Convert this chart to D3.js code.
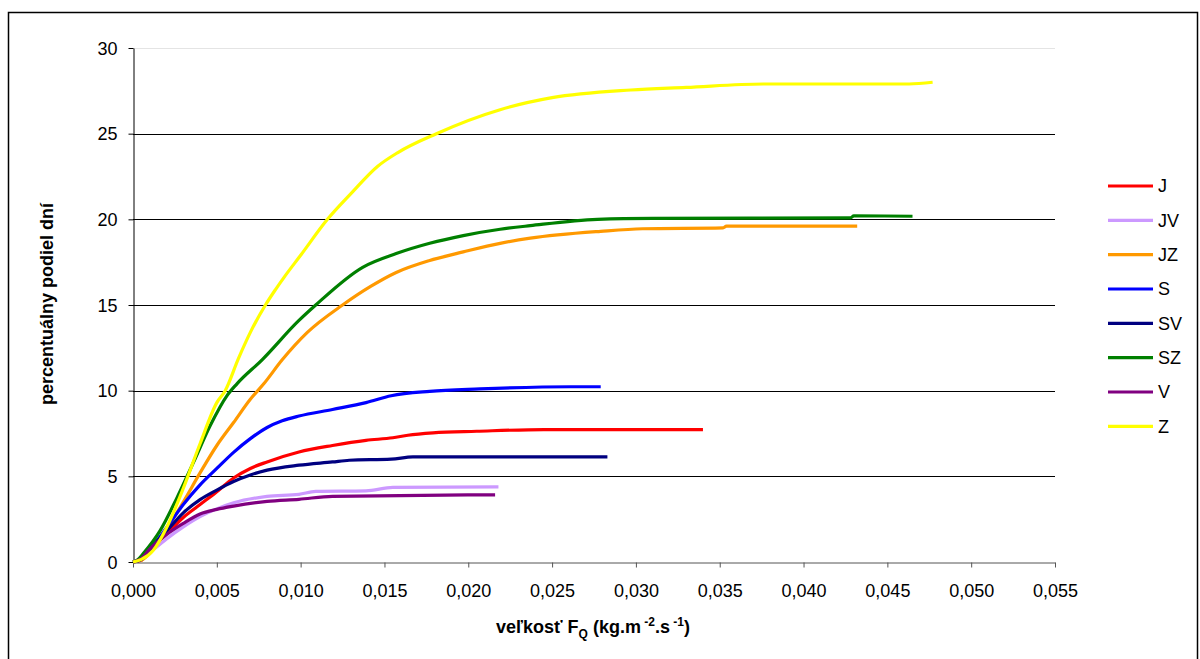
<!DOCTYPE html>
<html lang="sk">
<head>
    <meta charset="UTF-8">
    <title> Kumulatívny podiel dní </title>
    <style>
        body { margin: 0; background: #fff; }
        svg text { font-family: "Liberation Sans", Arial, sans-serif; }
    </style>
</head>
<body>
    <div id="svg-container"></div>
    <script src="https://cdnjs.cloudflare.com/ajax/libs/d3/7.8.5/d3.min.js"></script>
    <script>
        // series names + colours (legend order)
        const names = ['J', 'JV', 'JZ', 'S', 'SV', 'SZ', 'V', 'Z'];
        const colors = ['#ff0000', '#cc99ff', '#ff9900', '#0000ff', '#000080', '#008000', '#800080', '#ffff00'];

        // [F_Q, percent of days]
        const J = [[0,0],[0.0005,0.1],[0.0008,0.5],[0.002,1.63],[0.003,2.6],[0.004,3.35],[0.005,4.1],[0.006,4.9],[0.007,5.46],[0.008,5.84],[0.0099,6.42],[0.0119,6.8],[0.0139,7.1],[0.0155,7.25],[0.0164,7.4],[0.0179,7.54],[0.0205,7.63],[0.0245,7.73],[0.034,7.73]];
        const JV = [[0,0],[0.0005,0.15],[0.001,0.55],[0.002,1.35],[0.003,2.05],[0.004,2.65],[0.005,3.1],[0.006,3.45],[0.008,3.83],[0.0099,3.95],[0.0109,4.12],[0.0139,4.15],[0.0155,4.35],[0.0218,4.38]];
        const JZ = [[0,0],[0.0005,0.1],[0.001,0.5],[0.002,1.9],[0.003,3.5],[0.004,5.2],[0.005,6.8],[0.006,8.14],[0.007,9.5],[0.0078,10.4],[0.0089,11.8],[0.0104,13.4],[0.0125,15],[0.0142,16.1],[0.0157,16.9],[0.0177,17.6],[0.0197,18.1],[0.0219,18.6],[0.0237,18.9],[0.0279,19.3],[0.0304,19.45],[0.0352,19.5],[0.0354,19.6],[0.0432,19.6]];
        const S = [[0,0],[0.0005,0.15],[0.001,0.7],[0.002,2.0],[0.003,3.35],[0.004,4.5],[0.005,5.46],[0.006,6.4],[0.007,7.2],[0.008,7.85],[0.0089,8.24],[0.0099,8.52],[0.0119,8.9],[0.0139,9.3],[0.0154,9.7],[0.0177,9.96],[0.0207,10.1],[0.0261,10.23],[0.0279,10.23]];
        const SV = [[0,0],[0.0005,0.15],[0.001,0.75],[0.002,1.8],[0.003,2.87],[0.004,3.64],[0.005,4.2],[0.006,4.7],[0.007,5.08],[0.008,5.36],[0.0099,5.65],[0.0119,5.84],[0.0129,5.94],[0.0154,6.0],[0.0167,6.13],[0.0283,6.13]];
        const SZ = [[0,0],[0.0003,0.15],[0.0006,0.48],[0.0016,1.8],[0.0026,3.7],[0.0036,5.8],[0.0046,7.95],[0.0056,9.7],[0.0062,10.4],[0.0077,11.8],[0.0099,14.1],[0.0109,15],[0.0137,17.2],[0.0157,18.0],[0.0177,18.6],[0.0197,19.05],[0.0219,19.42],[0.0237,19.63],[0.0277,20.0],[0.031,20.06],[0.0428,20.08],[0.043,20.2],[0.0465,20.18]];
        const V = [[0,0],[0.0005,0.2],[0.001,0.75],[0.002,1.6],[0.003,2.25],[0.004,2.8],[0.005,3.07],[0.006,3.26],[0.008,3.54],[0.0099,3.66],[0.0119,3.83],[0.0216,3.92]];
        const Z = [[0,0],[0.0005,0.15],[0.0012,0.67],[0.002,2.0],[0.003,4.3],[0.004,6.9],[0.005,9.3],[0.0055,10.0],[0.0063,11.9],[0.007,13.4],[0.0079,15],[0.0085,15.9],[0.009,16.6],[0.010,17.9],[0.0116,20],[0.013,21.5],[0.0146,23.1],[0.0158,23.9],[0.0181,25],[0.0219,26.4],[0.025,27.1],[0.0297,27.55],[0.033,27.7],[0.0376,27.9],[0.0463,27.9],[0.0477,28.0]];
        const seriesData = [J, JV, JZ, S, SV, SZ, V, Z];

        const xTicks = d3.range(0, 12).map(i => i * 0.005);
        const yTicks = [0, 5, 10, 15, 20, 25, 30];

        const width = 1200, height = 659;
        const plotL = 133, plotR = 1055, plotT = 48, plotB = 562;

        const svg = d3.select('#svg-container')
            .append('svg')
            .attr('width', width)
            .attr('height', height);

        // outer chart frame
        svg.append('rect')
            .attr('x', 8.5).attr('y', 12.5)
            .attr('width', 1189).attr('height', 700)
            .attr('fill', 'none')
            .attr('stroke', '#000')
            .attr('stroke-width', 1.5);

        const x = d3.scaleLinear().domain([0, 0.055]).range([plotL, plotR]);
        const y = d3.scaleLinear().domain([0, 30]).range([plotB, plotT]);

        // gridlines
        svg.append('g')
            .selectAll('line')
            .data(yTicks.filter(d => d > 0))
            .join('line')
            .attr('x1', plotL).attr('x2', plotR)
            .attr('y1', d => Math.round(y(d)) + 0.5)
            .attr('y2', d => Math.round(y(d)) + 0.5)
            .attr('stroke', d => d === 30 ? '#e4e4e4' : '#000')
            .attr('stroke-width', 1);

        const fmt = d => d3.format('.3f')(d).replace('.', ',');

        const xAxis = svg.append('g')
            .attr('transform', `translate(0,${plotB + 0.5})`)
            .call(d3.axisBottom(x).tickValues(xTicks).tickFormat(fmt).tickSize(5).tickSizeOuter(0));
        xAxis.select('.domain').attr('stroke', '#555');
        xAxis.selectAll('.tick line').attr('stroke', '#555');
        xAxis.selectAll('text')
            .attr('font-size', 18).attr('fill', '#000')
            .attr('y', 34).attr('dy', 0);

        const yAxis = svg.append('g')
            .attr('transform', `translate(${plotL + 0.5},0)`)
            .call(d3.axisLeft(y).tickValues(yTicks).tickSize(5).tickSizeOuter(0));
        yAxis.select('.domain').attr('stroke', '#000');
        yAxis.selectAll('text')
            .attr('font-size', 18).attr('fill', '#000')
            .attr('x', -16).attr('dy', '0.35em');

        // curves
        const line = d3.line()
            .x(d => x(d[0]))
            .y(d => y(d[1]))
            .curve(d3.curveMonotoneX);

        svg.append('g')
            .selectAll('path')
            .data(seriesData)
            .join('path')
            .attr('d', line)
            .attr('fill', 'none')
            .attr('stroke', (d, i) => colors[i])
            .attr('stroke-width', 3.2)
            .attr('stroke-linejoin', 'round');

        // legend
        const legend = svg.append('g')
            .selectAll('g')
            .data(names)
            .join('g')
            .attr('transform', (d, i) => `translate(1108,${186 + i * 34.33})`);
        legend.append('line')
            .attr('x1', 0).attr('x2', 45)
            .attr('stroke', (d, i) => colors[i])
            .attr('stroke-width', 3.2);
        legend.append('text')
            .attr('x', 50).attr('dy', '0.36em')
            .attr('font-size', 18)
            .text(d => d);

        // axis titles
        svg.append('text')
            .attr('transform', 'translate(53,304) rotate(-90)')
            .attr('text-anchor', 'middle')
            .attr('font-size', 18)
            .attr('font-weight', 'bold')
            .text('percentuálny podiel dní');

        const xt = svg.append('text')
            .attr('x', 593).attr('y', 633)
            .attr('text-anchor', 'middle')
            .attr('font-size', 18)
            .attr('font-weight', 'bold');
        xt.append('tspan').text('veľkosť F');
        xt.append('tspan').attr('font-size', 12).attr('dy', 5).text('Q');
        xt.append('tspan').attr('dy', -5).text(' (kg.m');
        xt.append('tspan').attr('font-size', 12).attr('dy', -7).text(' -2');
        xt.append('tspan').attr('dy', 7).text('.s');
        xt.append('tspan').attr('font-size', 12).attr('dy', -7).text(' -1');
        xt.append('tspan').attr('dy', 7).text(')');
    </script>
</body>
</html>
